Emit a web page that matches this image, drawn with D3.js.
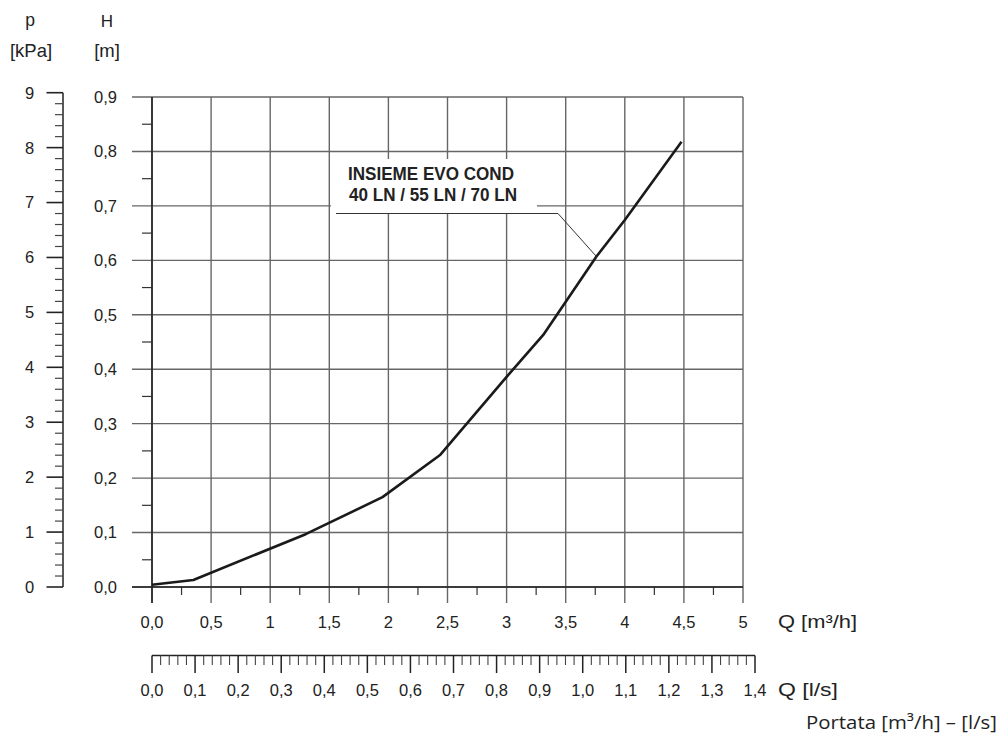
<!DOCTYPE html>
<html>
<head>
<meta charset="utf-8">
<script src="https://cdn.jsdelivr.net/npm/d3@7"></script>
<style>
  html, body { margin: 0; padding: 0; background: #fff; }
  svg { display: block; }
  text { font-family: "Liberation Sans", Arial, sans-serif; fill: #222; }
</style>
</head>
<body>
<svg id="chart" width="1000" height="738"></svg>
<script>
// ---- data ----
const flowM3h = [0, 0.35, 1.3, 1.95, 2.44, 3.0, 3.31, 3.76, 4.0, 4.48];
const headM   = [0.004, 0.013, 0.097, 0.165, 0.243, 0.386, 0.463, 0.607, 0.674, 0.818];

const hTicks = [0, 0.1, 0.2, 0.3, 0.4, 0.5, 0.6, 0.7, 0.8, 0.9];
const hTickLabels = ["0,0","0,1","0,2","0,3","0,4","0,5","0,6","0,7","0,8","0,9"];
const pTicks = [0,1,2,3,4,5,6,7,8,9];
const pTickLabels = ["0","1","2","3","4","5","6","7","8","9"];
const qTicks = [0,0.5,1,1.5,2,2.5,3,3.5,4,4.5,5];
const qTickLabels = ["0,0","0,5","1","1,5","2","2,5","3","3,5","4","4,5","5"];
const lsTicks = [0,0.1,0.2,0.3,0.4,0.5,0.6,0.7,0.8,0.9,1.0,1.1,1.2,1.3,1.4];
const lsTickLabels = ["0,0","0,1","0,2","0,3","0,4","0,5","0,6","0,7","0,8","0,9","1,0","1,1","1,2","1,3","1,4"];

const seriesLabel = ["INSIEME EVO COND", "40 LN / 55 LN / 70 LN"];
const leaderAt = 3.76; // Q where the label's leader line meets the curve

// ---- scales ----
const svg = d3.select("#chart");
const x  = d3.scaleLinear().domain([0, 5]).range([152, 743]);
const xl = d3.scaleLinear().domain([0, 1.4]).range([152, 755]);
const yH = d3.scaleLinear().domain([0, 0.9]).range([587, 97]);
const yP = d3.scaleLinear().domain([0, 9]).range([587, 92.7]);

const gridColor = "#666";
const tickFont = 16.5;

// ---- grid: horizontal (H) ----
const gH = svg.append("g");
gH.selectAll("line.h").data(hTicks).join("line")
  .attr("x1", 132).attr("x2", x(5))
  .attr("y1", d => yH(d)).attr("y2", d => yH(d))
  .attr("stroke", gridColor).attr("stroke-width", 1.4);
const hMinor = d3.range(0.05, 0.9, 0.1);
gH.selectAll("line.hm").data(hMinor).join("line")
  .attr("x1", 142).attr("x2", 152)
  .attr("y1", d => yH(d)).attr("y2", d => yH(d))
  .attr("stroke", "#333").attr("stroke-width", 1.2);

// ---- grid: vertical (Q) ----
const gV = svg.append("g");
gV.selectAll("line.v").data(qTicks).join("line")
  .attr("x1", d => x(d)).attr("x2", d => x(d))
  .attr("y1", yH(0.9)).attr("y2", 603)
  .attr("stroke", gridColor).attr("stroke-width", 1.4);
const qMinor = d3.range(0.25, 5, 0.5);
gV.selectAll("line.vm").data(qMinor).join("line")
  .attr("x1", d => x(d)).attr("x2", d => x(d))
  .attr("y1", yH(0)).attr("y2", 595)
  .attr("stroke", "#333").attr("stroke-width", 1.2);

// main axes darker
svg.append("line").attr("x1", x(0)).attr("x2", x(0)).attr("y1", yH(0.9)).attr("y2", 603)
  .attr("stroke", "#222").attr("stroke-width", 1.6);
svg.append("line").attr("x1", 132).attr("x2", x(5)).attr("y1", yH(0)).attr("y2", yH(0))
  .attr("stroke", "#222").attr("stroke-width", 1.6);

// ---- label box (white background hides grid) ----
svg.append("rect").attr("x", 331).attr("y", 159).attr("width", 206).attr("height", 54)
  .attr("fill", "#fff");

// ---- curve ----
const pts = flowM3h.map((q, i) => [q, headM[i]]);
svg.append("path")
  .attr("d", d3.line().x(d => x(d[0])).y(d => yH(d[1]))(pts))
  .attr("fill", "none").attr("stroke", "#1a1a1a").attr("stroke-width", 2.6)
  .attr("stroke-linejoin", "round");

// leader line
const iLeader = d3.bisectLeft(flowM3h, leaderAt);
const hLeader = headM[iLeader - 1] + (headM[iLeader] - headM[iLeader - 1]) *
  (leaderAt - flowM3h[iLeader - 1]) / (flowM3h[iLeader] - flowM3h[iLeader - 1]);
svg.append("polyline")
  .attr("points", [[336, 213.5], [558, 213.5], [x(leaderAt), yH(hLeader)]].map(p => p.join(",")).join(" "))
  .attr("fill", "none").attr("stroke", "#333").attr("stroke-width", 1);

svg.append("text").attr("x", 348).attr("y", 179.5)
  .attr("font-size", 19).attr("font-weight", "bold")
  .attr("textLength", 166).attr("lengthAdjust", "spacingAndGlyphs")
  .text(seriesLabel[0]);
svg.append("text").attr("x", 349).attr("y", 201)
  .attr("font-size", 19).attr("font-weight", "bold")
  .attr("textLength", 168).attr("lengthAdjust", "spacingAndGlyphs")
  .text(seriesLabel[1]);

// ---- H tick labels ----
svg.append("g").selectAll("text").data(hTicks).join("text")
  .attr("x", 117).attr("y", d => yH(d)).attr("dy", "0.36em")
  .attr("text-anchor", "end").attr("font-size", tickFont)
  .text((d, i) => hTickLabels[i]);

// ---- p axis ----
const gP = svg.append("g");
gP.append("line").attr("x1", 63).attr("x2", 63).attr("y1", yP(9)).attr("y2", yP(0))
  .attr("stroke", "#222").attr("stroke-width", 1.5);
gP.selectAll("line.pm").data(d3.range(0, 45).map(i => i * 0.2).filter((d, i) => i % 5 !== 0)).join("line")
  .attr("x1", 55).attr("x2", 63)
  .attr("y1", d => yP(d)).attr("y2", d => yP(d))
  .attr("stroke", "#444").attr("stroke-width", 1.2);
gP.selectAll("line.pM").data(pTicks).join("line")
  .attr("x1", 46.5).attr("x2", 63)
  .attr("y1", d => yP(d)).attr("y2", d => yP(d))
  .attr("stroke", "#222").attr("stroke-width", 1.6);
gP.selectAll("text").data(pTicks).join("text")
  .attr("x", 29.5).attr("y", d => yP(d)).attr("dy", "0.36em")
  .attr("text-anchor", "middle").attr("font-size", tickFont)
  .text((d, i) => pTickLabels[i]);

// axis titles
svg.append("text").attr("x", 30).attr("y", 26).attr("text-anchor", "middle").attr("font-size", 17.5).text("p");
svg.append("text").attr("x", 31).attr("y", 57).attr("text-anchor", "middle").attr("font-size", 18.5).text("[kPa]");
svg.append("text").attr("x", 107).attr("y", 26.5).attr("text-anchor", "middle").attr("font-size", 17).text("H");
svg.append("text").attr("x", 107).attr("y", 57).attr("text-anchor", "middle").attr("font-size", 18.5).text("[m]");

// ---- Q (m3/h) tick labels ----
svg.append("g").selectAll("text").data(qTicks).join("text")
  .attr("x", d => x(d)).attr("y", 622).attr("dy", "0.36em")
  .attr("text-anchor", "middle").attr("font-size", tickFont)
  .text((d, i) => qTickLabels[i]);
svg.append("text").attr("x", 778).attr("y", 622).attr("dy", "0.36em").attr("font-size", 18)
  .attr("textLength", 79).attr("lengthAdjust", "spacingAndGlyphs").text("Q [m³/h]");

// ---- Q (l/s) axis ----
const gL = svg.append("g");
gL.append("line").attr("x1", xl(0)).attr("x2", xl(1.4)).attr("y1", 655.5).attr("y2", 655.5)
  .attr("stroke", "#222").attr("stroke-width", 1.4);
gL.selectAll("line.lm").data(d3.range(0, 71).map(i => i * 0.02).filter((d, i) => i % 5 !== 0)).join("line")
  .attr("x1", d => xl(d)).attr("x2", d => xl(d))
  .attr("y1", 655.5).attr("y2", 665)
  .attr("stroke", "#444").attr("stroke-width", 1.1);
gL.selectAll("line.lM").data(lsTicks).join("line")
  .attr("x1", d => xl(d)).attr("x2", d => xl(d))
  .attr("y1", 655.5).attr("y2", 673)
  .attr("stroke", "#222").attr("stroke-width", 1.5);
gL.selectAll("text").data(lsTicks).join("text")
  .attr("x", d => xl(d)).attr("y", 690).attr("dy", "0.36em")
  .attr("text-anchor", "middle").attr("font-size", tickFont)
  .text((d, i) => lsTickLabels[i]);
svg.append("text").attr("x", 778).attr("y", 690).attr("dy", "0.36em").attr("font-size", 18)
  .attr("textLength", 60).attr("lengthAdjust", "spacingAndGlyphs").text("Q [l/s]");

// ---- footer ----
svg.append("text").attr("x", 806).attr("y", 729)
  .style("font-family", "'Open Sans', 'Noto Sans', sans-serif").attr("font-size", 19)
  .attr("textLength", 191).attr("lengthAdjust", "spacingAndGlyphs")
  .text("Portata [m³/h] – [l/s]");
</script>
</body>
</html>
